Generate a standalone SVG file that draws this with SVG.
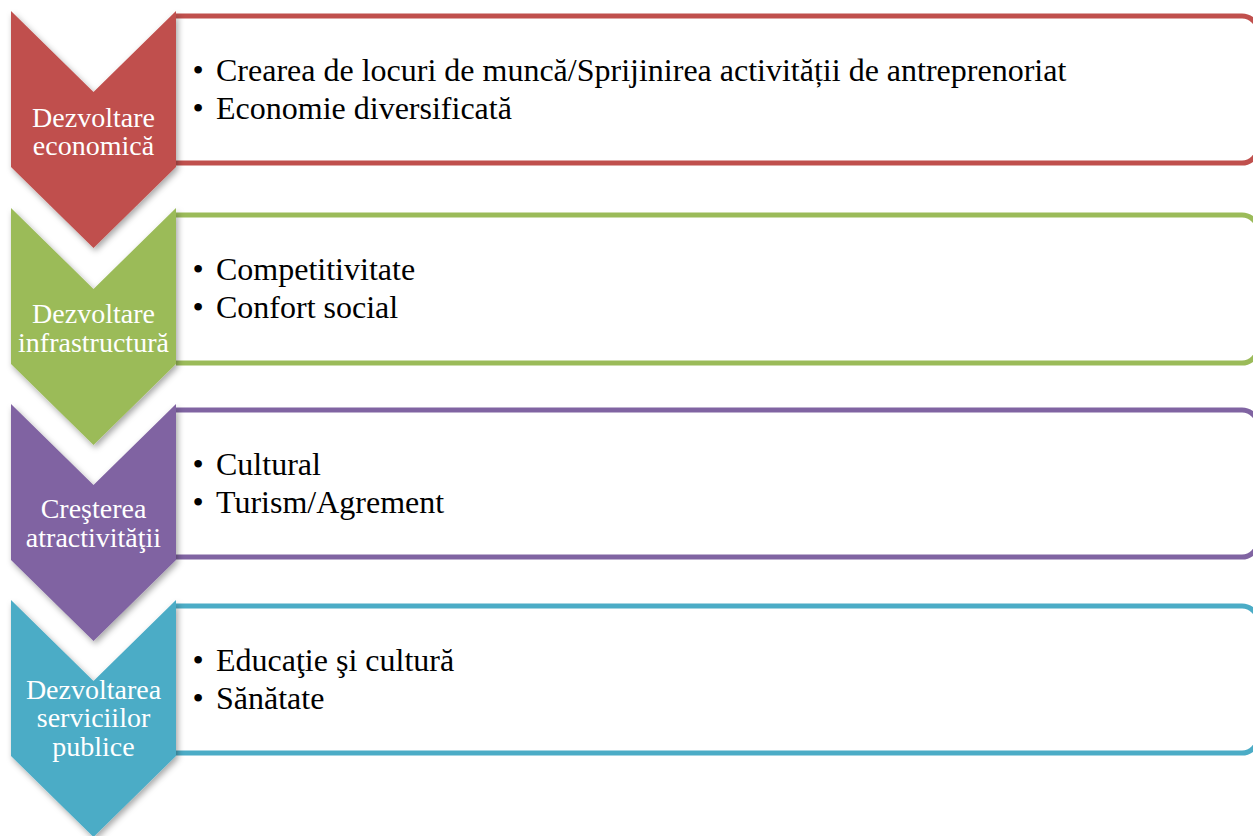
<svg xmlns="http://www.w3.org/2000/svg" width="1253" height="836" viewBox="0 0 1253 836">
<defs>
<style>
.box{fill:#ffffff;stroke-width:5;stroke-linejoin:round}
.chev-text{font-family:"Liberation Serif","Times New Roman",serif;font-size:28px;fill:#ffffff;text-anchor:middle}
.item{font-family:"Liberation Serif","Times New Roman",serif;font-size:32px;fill:#000000}
.bul{font-family:"Liberation Serif","Times New Roman",serif;font-size:32px;fill:#000000;text-anchor:middle}
</style>
<filter id="sh" x="-20%" y="-20%" width="140%" height="140%">
<feDropShadow dx="2" dy="3" stdDeviation="3" flood-color="#000000" flood-opacity="0.35"/>
</filter>
</defs>
<rect width="1253" height="836" fill="#ffffff"/>
<g id="connectors"/>
<g id="node-economica">
<path class="box" d="M176,16 H1242 A16,16 0 0 1 1258,32 V147 A16,16 0 0 1 1242,163 H176" stroke="#C0504D"/>
<polygon points="11,11 93.5,92 176,11 176,167 93.5,248 11,167" fill="#C0504D" filter="url(#sh)"/>
<text class="chev-text"><tspan x="93.5" y="127">Dezvoltare</tspan><tspan x="93.5" y="155">economică</tspan></text>
<text class="bul" x="198" y="81">•</text>
<text class="item" x="216" y="81">Crearea de locuri de muncă/Sprijinirea activității de antreprenoriat</text>
<text class="bul" x="198" y="119">•</text>
<text class="item" x="216" y="119">Economie diversificată</text>
</g>
<g id="node-infrastructura">
<path class="box" d="M176,215 H1242 A16,16 0 0 1 1258,231 V347 A16,16 0 0 1 1242,363 H176" stroke="#9BBB59"/>
<polygon points="11,208 93.5,289 176,208 176,364 93.5,445 11,364" fill="#9BBB59" filter="url(#sh)"/>
<text class="chev-text"><tspan x="93.5" y="323">Dezvoltare</tspan><tspan x="93.5" y="352">infrastructură</tspan></text>
<text class="bul" x="198" y="280">•</text>
<text class="item" x="216" y="280">Competitivitate</text>
<text class="bul" x="198" y="318">•</text>
<text class="item" x="216" y="318">Confort social</text>
</g>
<g id="node-atractivitate">
<path class="box" d="M176,410 H1242 A16,16 0 0 1 1258,426 V541 A16,16 0 0 1 1242,557 H176" stroke="#8064A2"/>
<polygon points="11,404 93.5,485 176,404 176,560 93.5,641 11,560" fill="#8064A2" filter="url(#sh)"/>
<text class="chev-text"><tspan x="93.5" y="518">Creşterea</tspan><tspan x="93.5" y="547">atractivităţii</tspan></text>
<text class="bul" x="198" y="475">•</text>
<text class="item" x="216" y="475">Cultural</text>
<text class="bul" x="198" y="513">•</text>
<text class="item" x="216" y="513">Turism/Agrement</text>
</g>
<g id="node-servicii">
<path class="box" d="M176,606 H1242 A16,16 0 0 1 1258,622 V737 A16,16 0 0 1 1242,753 H176" stroke="#4BACC6"/>
<polygon points="11,600 93.5,681 176,600 176,756 93.5,837 11,756" fill="#4BACC6" filter="url(#sh)"/>
<text class="chev-text"><tspan x="93.5" y="699">Dezvoltarea</tspan><tspan x="93.5" y="727">serviciilor</tspan><tspan x="93.5" y="756">publice</tspan></text>
<text class="bul" x="198" y="671">•</text>
<text class="item" x="216" y="671">Educaţie şi cultură</text>
<text class="bul" x="198" y="709">•</text>
<text class="item" x="216" y="709">Sănătate</text>
</g>
</svg>
